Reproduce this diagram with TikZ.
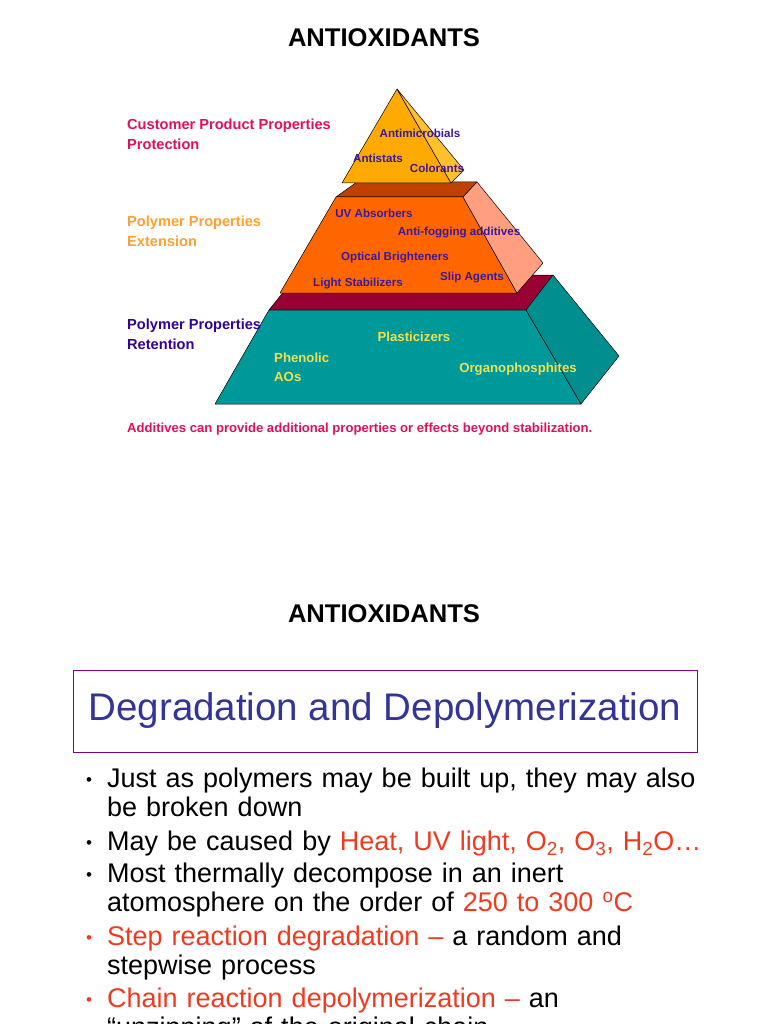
\documentclass[tikz,border=0pt]{standalone}
\usepackage{fontspec}
\setmainfont{Liberation Sans}
\definecolor{mag}{HTML}{E0105A}
\definecolor{orl}{HTML}{FFA030}
\definecolor{nav}{HTML}{330099}
\definecolor{lab}{HTML}{3A1A9A}
\definecolor{yel}{HTML}{F0E050}
\definecolor{tit}{HTML}{333399}
\definecolor{rd}{HTML}{F03A20}
\definecolor{tealf}{HTML}{009999}
\definecolor{tealS}{HTML}{008E8E}
\definecolor{maro}{HTML}{990033}
\definecolor{orf}{HTML}{FF6600}
\definecolor{ors}{HTML}{FF9F80}
\definecolor{ort}{HTML}{C04000}
\definecolor{ygf}{HTML}{FFAA00}
\definecolor{ygs}{HTML}{FFC030}
\definecolor{boxc}{HTML}{800080}
\newcommand{\bdot}{\makebox[21pt][l]{\raisebox{2pt}{\fontsize{17}{17}\selectfont•}}}
\begin{document}
\begin{tikzpicture}[x=1pt,y=-1pt,
 face/.style={draw=black,line width=0.5pt,line join=round},
 plab/.style={font=\fontsize{11.6}{13}\selectfont\bfseries,text=lab,inner sep=0},
 ylab/.style={font=\fontsize{13.2}{19}\selectfont\bfseries,text=yel,inner sep=0,align=left},
 llab/.style={font=\fontsize{14.6}{20}\selectfont\bfseries,inner sep=0,anchor=north west,align=left},
 head/.style={font=\fontsize{25.6}{28}\selectfont\bfseries,inner sep=0},
 bul/.style={font=\fontsize{27}{28.5}\selectfont,inner sep=0,anchor=north west,align=left,text width=650pt}]
\useasboundingbox (0,0) rectangle (768,1024);
\clip (0,0) rectangle (768,1024);
\node[head] (t1) at (384,38) {ANTIOXIDANTS};
\node[head] (t2) at (384,614) {ANTIOXIDANTS};
% bottom tier
\filldraw[face,fill=maro] (269,310) -- (297,275) -- (553,275) -- (526,310) -- cycle;
\filldraw[face,fill=tealf] (269,310) -- (526,310) -- (581,404) -- (215,404) -- cycle;
\filldraw[face,fill=tealS] (526,310) -- (553,275) -- (619,356) -- (581,404) -- cycle;
% middle tier
\filldraw[face,fill=ort] (336,197) -- (357,182) -- (477,182) -- (463,197) -- cycle;
\filldraw[face,fill=orf] (336,197) -- (463,197) -- (517,293) -- (280,293) -- cycle;
\filldraw[face,fill=ors] (463,197) -- (477,182) -- (543,263) -- (517,293) -- cycle;
% top tier
\filldraw[face,fill=ygf] (397,89) -- (451,183) -- (342,183) -- cycle;
\filldraw[face,fill=ygs] (397,89) -- (464,170) -- (451,183) -- cycle;
% pyramid labels
\node[plab] (a1) at (420,133) {Antimicrobials};
\node[plab] (a2) at (378,158) {Antistats};
\node[plab] (a3) at (437,168) {Colorants};
\node[plab] (b1) at (374,213) {UV Absorbers};
\node[plab] (b2) at (459,233) {Anti-fogging additives};
\node[plab] (b3) at (395,258) {Optical Brighteners};
\node[plab] (b4) at (472,278) {Slip Agents};
\node[plab] (b5) at (358,284) {Light Stabilizers};
\node[ylab] (c1) at (414,337) {Plasticizers};
\node[ylab,anchor=west] (c2) at (274,367) {Phenolic\\AOs};
\node[ylab] (c3) at (518,369) {Organophosphites};
% left labels
\node[llab,text=mag] (l1) at (127,119) {Customer Product Properties\\Protection};
\node[llab,text=orl] (l2) at (127,216) {Polymer Properties\\Extension};
\node[llab,text=nav] (l3) at (127,319) {Polymer Properties\\Retention};
\node[font=\fontsize{13.1}{15}\selectfont\bfseries,text=mag,inner sep=0,anchor=west] (ft) at (127,429) {Additives can provide additional properties or effects beyond stabilization.};
% second slide
\node[draw=boxc,line width=0.7pt,minimum width=624pt,minimum height=82pt,inner sep=0,
 font=\fontsize{38.5}{42}\selectfont,text=tit] (bx) at (385,711) {Degradation and Depolymerization};
\node[bul] (p1) at (86,768) {\bdot Just as polymers may be built up, they may also\\\hspace{21pt}be broken down};
\node[bul] (p2) at (86,831) {\bdot May be caused by \textcolor{rd}{Heat, UV light, O\textsubscript{2}, O\textsubscript{3}, H\textsubscript{2}O…}};
\node[bul] (p3) at (86,863) {\bdot Most thermally decompose in an inert\\\hspace{21pt}atomosphere on the order of \textcolor{rd}{250 to 300 \textsuperscript{o}C}};
\node[bul] (p4) at (86,926) {\textcolor{rd}{\bdot Step reaction degradation –} a random and\\\hspace{21pt}stepwise process};
\node[bul] (p5) at (86,988) {\textcolor{rd}{\bdot Chain reaction depolymerization –} an\\\hspace{21pt}“unzipping” of the original chain};
\end{tikzpicture}
\end{document}
